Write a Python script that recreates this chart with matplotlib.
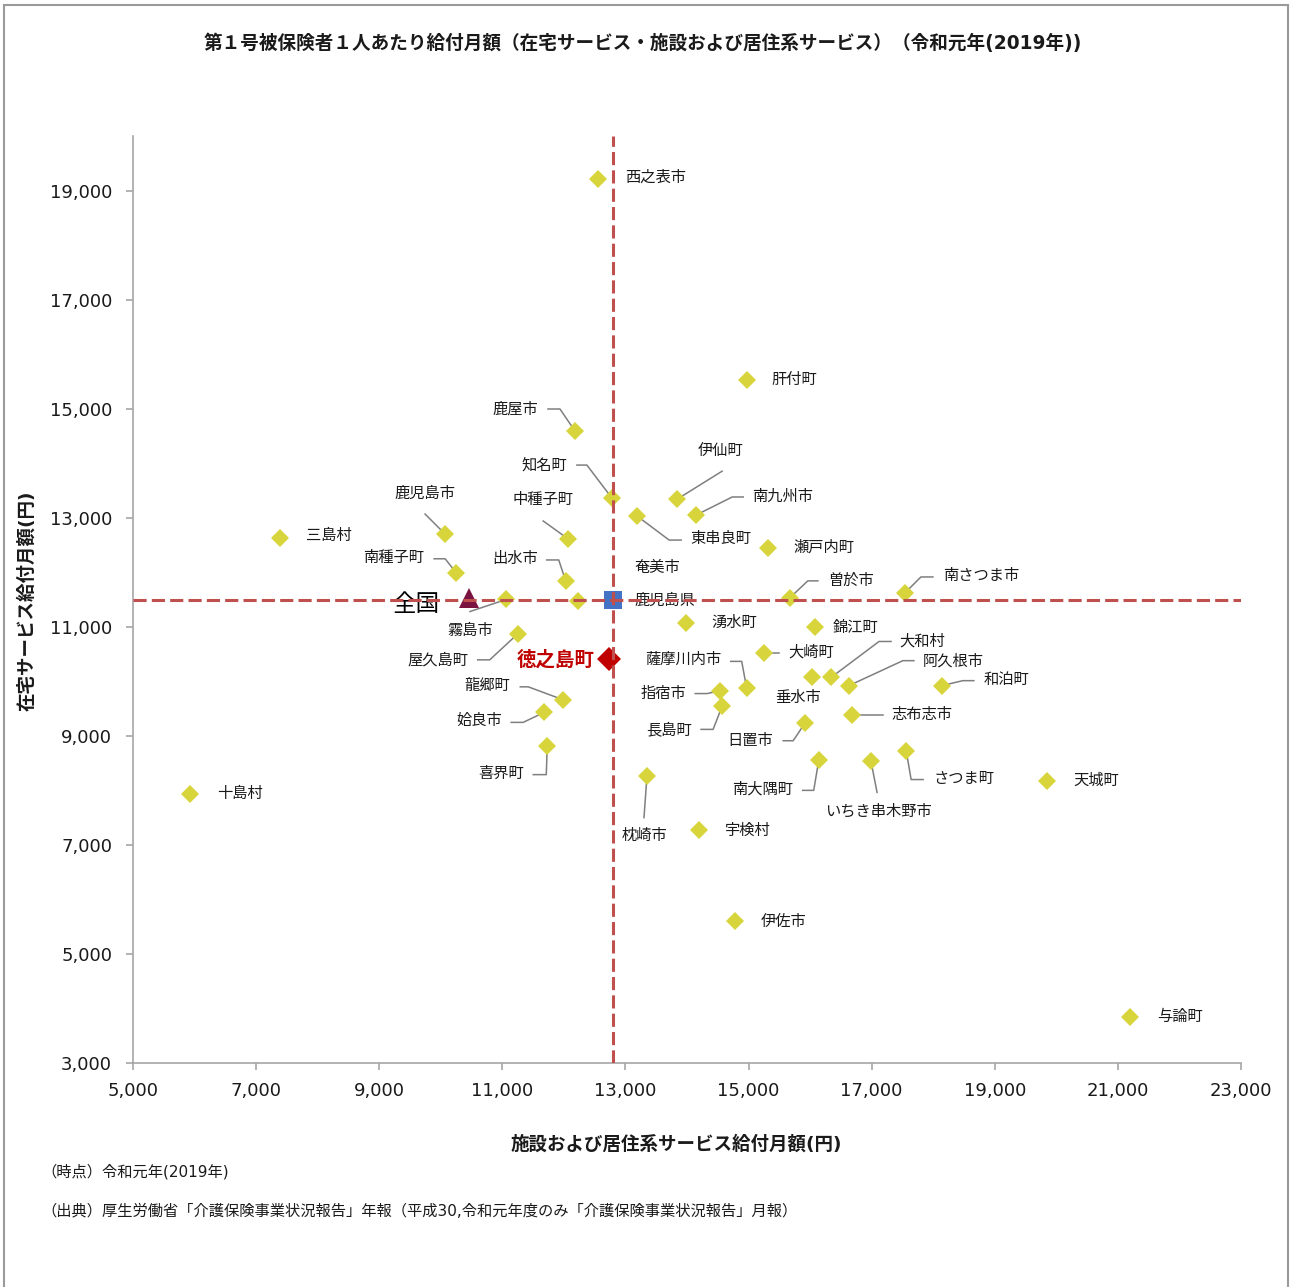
import matplotlib
matplotlib.use('Agg')
import matplotlib.pyplot as plt
import matplotlib.patches as patches
from matplotlib.ticker import FuncFormatter

plt.rcParams['font.family'] = ['DejaVu Sans', 'Noto Sans CJK JP']

# 市町村データ (施設および居住系, 在宅)
names = ['西之表市', '肝付町', '鹿屋市', '知名町', '伊仙町', '南九州市', '東串良町',
         '鹿児島市', '三島村', '中種子町', '瀬戸内町', '南種子町', '出水市', '南さつま市',
         '曽於市', '霧島市', '奄美市', '湧水町', '錦江町', '屋久島町', '徳之島町', '大崎町',
         '薩摩川内市', '垂水市', '大和村', '阿久根市', '和泊町', '指宿市', '龍郷町', '長島町',
         '姶良市', '志布志市', '日置市', 'さつま町', '喜界町', '南大隅町', 'いちき串木野市',
         '枕崎市', '天城町', '十島村', '宇検村', '伊佐市', '与論町']
shisetsu = [12550, 14970, 12180, 12780, 13840, 14150, 13190,
            10070, 7390, 12070, 15320, 10250, 12030, 17540,
            15670, 11060, 12230, 13980, 16080, 11250, 12730, 15250,
            14970, 16030, 16340, 16630, 18140, 14540, 11990, 14570,
            11680, 16680, 15920, 17560, 11730, 16140, 16990,
            13350, 19850, 5930, 14200, 14780, 21200]
zaitaku = [19220, 15520, 14590, 13360, 13340, 13050, 13030,
           12700, 12630, 12610, 12450, 11990, 11840, 11620,
           11530, 11500, 11480, 11060, 11000, 10870, 10400, 10510,
           9870, 10070, 10070, 9920, 9920, 9830, 9660, 9540,
           9430, 9390, 9240, 8730, 8820, 8550, 8530,
           8270, 8180, 7940, 7270, 5600, 3840]

highlight = '徳之島町'
national = (10460, 11530)
prefecture = (12790, 11490)

x_ticks = list(range(5000, 23001, 2000))
y_ticks = list(range(3000, 19001, 2000))

# ラベル位置 (点からのピクセルずれ: 右, 下)
label_pos = {
    '西之表市': (27, -1, 'left'), '肝付町': (25, -1, 'left'), '鹿屋市': (-37, -22, 'right'),
    '知名町': (-45, -33, 'right'), '伊仙町': (21, -49, 'left'), '南九州市': (56, -19, 'left'),
    '東串良町': (53, 22, 'left'), '鹿児島市': (-20, -41, 'center'), '三島村': (26, -2, 'left'),
    '中種子町': (-25, -39, 'center'), '瀬戸内町': (25, -1, 'left'), '南種子町': (-32, -15, 'right'),
    '出水市': (-28, -22, 'right'), '南さつま市': (38, -17, 'left'), '曽於市': (38, -17, 'left'),
    '霧島市': (-36, 31, 'center'), '奄美市': (56, -33, 'left'), '湧水町': (26, -1, 'left'),
    '錦江町': (18, 1, 'left'), '屋久島町': (-49, 26, 'right'), '大崎町': (24, -1, 'left'),
    '薩摩川内市': (-25, -29, 'right'), '垂水市': (-14, 20, 'center'), '大和村': (68, -36, 'left'),
    '阿久根市': (74, -25, 'left'), '和泊町': (42, -6, 'left'), '指宿市': (-34, 3, 'right'),
    '龍郷町': (-53, -14, 'right'), '長島町': (-30, 23, 'right'), '姶良市': (-42, 8, 'right'),
    '志布志市': (40, 0, 'left'), '日置市': (-32, 18, 'right'), 'さつま町': (27, 28, 'left'),
    '喜界町': (-23, 28, 'right'), '南大隅町': (-26, 29, 'right'), 'いちき串木野市': (7, 50, 'center'),
    '枕崎市': (-2, 60, 'center'), '天城町': (26, 0, 'left'), '十島村': (27, 0, 'left'),
    '宇検村': (26, 0, 'left'), '伊佐市': (26, 0, 'left'), '与論町': (27, -1, 'left'),
}
leaders = {
    '鹿屋市': [(-27, -22), (-15, -22)], '知名町': [(-35, -33), (-25, -33)],
    '伊仙町': [(45, -28)], '南九州市': [(47, -18), (36, -18)], '東串良町': [(44, 24), (32, 24)],
    '鹿児島市': [(-20, -20)], '中種子町': [(-25, -18)], '南種子町': [(-22, -14), (-11, -14)],
    '出水市': [(-19, -21), (-7, -21)], '南さつま市': [(28, -16), (16, -16)],
    '曽於市': [(28, -17), (18, -17)], '霧島市': [(-36, 12)], '屋久島町': [(-40, 26), (-28, 26)],
    '大崎町': [(15, 0)], '薩摩川内市': [(-16, -27), (-5, -27)], '大和村': [(60, -36), (48, -36)],
    '阿久根市': [(65, -25), (54, -25)], '和泊町': [(32, -5), (21, -5)], '指宿市': [(-25, 3), (-13, 3)],
    '龍郷町': [(-43, -13), (-35, -13)], '長島町': [(-21, 23), (-9, 23)], '姶良市': [(-33, 10), (-21, 10)],
    '志布志市': [(31, 0)], '日置市': [(-22, 18), (-12, 18)], '喜界町': [(-14, 29), (-1, 29)],
    'さつま町': [(17, 29), (5, 29)], '南大隅町': [(-16, 30), (-5, 30)], 'いちき串木野市': [(6, 31)],
    '枕崎市': [(-3, 42)],
}

W, H = 1290, 1287
fig = plt.figure(figsize=(W / 100, H / 100), dpi=100)
ax = fig.add_axes([133 / W, 1 - 1063 / H, (1241 - 133) / W, (1063 - 136) / H])
ax.set_xlim(5000, 23000)
ax.set_ylim(3000, 20000)


def px_off(x, y, dx, dy):
    px, py = ax.transData.transform((x, y))
    return ax.transData.inverted().transform((px + dx, py - dy))


# 引き出し線
for n, xv, yv in zip(names, shisetsu, zaitaku):
    if n in leaders:
        pts = [px_off(xv, yv, dx, dy) for dx, dy in leaders[n]] + [(xv, yv)]
        ax.plot([p[0] for p in pts], [p[1] for p in pts], color='#7f7f7f', lw=1.1, zorder=2)

others = [i for i, n in enumerate(names) if n != highlight]
ax.plot([shisetsu[i] for i in others], [zaitaku[i] for i in others], 'D',
        color='#d7d53b', markersize=9.5, markeredgewidth=0, zorder=3)
hi = names.index(highlight)
ax.plot(shisetsu[hi], zaitaku[hi], 'D', color='#c00000', markersize=12.5,
        markeredgewidth=0, zorder=3)
ax.plot(*national, '^', color='#7a1340', markersize=14, markeredgewidth=0, zorder=3)
ax.plot(*prefecture, 's', color='#4472c4', markersize=13, markeredgewidth=0, zorder=3)

# 県平均の基準線
ax.axvline(prefecture[0], color='#c0504d', lw=2.2, dashes=(4.3, 1.7), zorder=4)
ax.axhline(prefecture[1], color='#c0504d', lw=2.2, dashes=(4.3, 1.7), zorder=4)

for n, xv, yv in zip(names, shisetsu, zaitaku):
    if n in label_pos:
        dx, dy, ha = label_pos[n]
        lx, ly = px_off(xv, yv, dx, dy)
        ax.text(lx, ly, n, ha=ha, va='center', fontsize=11, color='#1a1a1a', zorder=3.5)

lx, ly = px_off(shisetsu[hi], zaitaku[hi], -14, 0)
ax.text(lx, ly, highlight, ha='right', va='center', fontsize=14, fontweight='bold',
        color='#c00000', zorder=3.5)
lx, ly = px_off(national[0], national[1], -30, 6)
ax.text(lx, ly, '全国', ha='right', va='center', fontsize=17, color='#000000', zorder=3.5)
lx, ly = px_off(prefecture[0], prefecture[1], 22, 0)
ax.text(lx, ly, '鹿児島県', ha='left', va='center', fontsize=11, color='#1a1a1a', zorder=3.5)

ax.set_xticks(x_ticks)
ax.set_yticks(y_ticks)
fmt = FuncFormatter(lambda v, p: f'{v:,.0f}')
ax.xaxis.set_major_formatter(fmt)
ax.yaxis.set_major_formatter(fmt)
for s in ['top', 'right']:
    ax.spines[s].set_visible(False)
for s in ['left', 'bottom']:
    ax.spines[s].set_color('#a6a6a6')
    ax.spines[s].set_linewidth(1.2)
ax.tick_params(axis='both', colors='#a6a6a6', labelcolor='#1a1a1a', labelsize=13,
               length=5, width=1.2, direction='out')
ax.tick_params(axis='y', pad=10)
ax.tick_params(axis='x', pad=9)

fig.text(643 / W, 1 - 43 / H,
         '第１号被保険者１人あたり給付月額（在宅サービス・施設および居住系サービス）（令和元年(2019年))',
         ha='center', va='center', fontsize=13.4, fontweight='bold', color='#1a1a1a')
fig.text(676 / W, 1 - 1144 / H, '施設および居住系サービス給付月額(円)', ha='center', va='center',
         fontsize=13.3, fontweight='bold', color='#1a1a1a')
fig.text(27 / W, 1 - 601 / H, '在宅サービス給付月額(円)', ha='center', va='center',
         rotation=90, fontsize=13.3, fontweight='bold', color='#1a1a1a')
fig.text(41 / W, 1 - 1172 / H, '（時点）令和元年(2019年)', ha='left', va='center',
         fontsize=11, color='#1a1a1a')
fig.text(41 / W, 1 - 1211 / H,
         '（出典）厚生労働省「介護保険事業状況報告」年報（平成30,令和元年度のみ「介護保険事業状況報告」月報）',
         ha='left', va='center', fontsize=11, color='#1a1a1a')

frame = patches.Rectangle((4 / W, -0.01), (1288 - 4) / W, 1.01 - 5 / H, transform=fig.transFigure,
                          fill=False, edgecolor='#9a9a9a', lw=1.5)
fig.add_artist(frame)

fig.savefig('out.png', dpi=100)
